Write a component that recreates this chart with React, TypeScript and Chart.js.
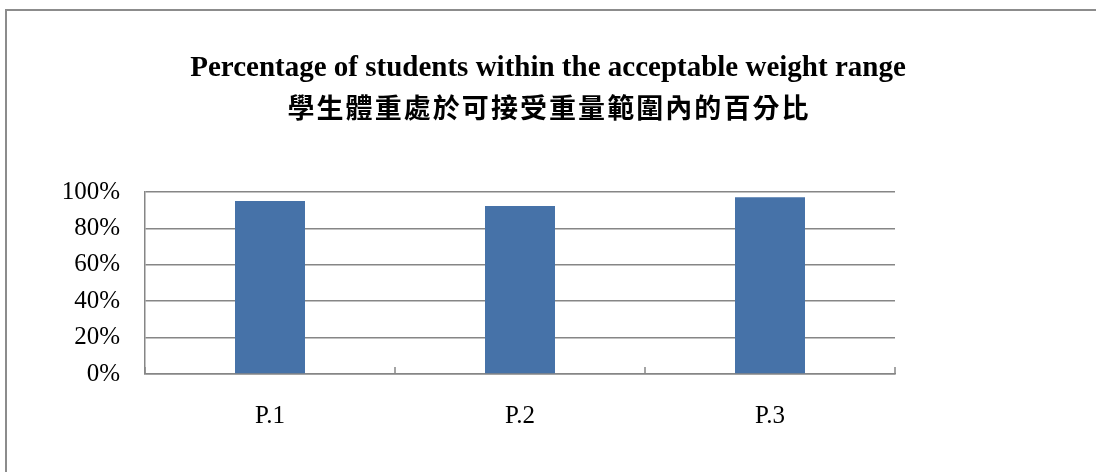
import React, { useEffect, useRef } from "react";
import { Chart, registerables } from "chart.js";

Chart.register(...registerables);

const categories: string[] = ["P.1", "P.2", "P.3"];
const percentWithinRange: number[] = [0.951, 0.923, 0.971];
const titleEnglish = "Percentage of students within the acceptable weight range";
const titleChinese = "學生體重處於可接受重量範圍內的百分比";

const GRID = "#868686";

const titlePlugin = {
  id: "twoLineTitle",
  afterDraw(chart: any) {
    const ctx = chart.ctx as CanvasRenderingContext2D;
    const cx = chart.width / 2;
    ctx.save();
    ctx.fillStyle = "#000";
    ctx.textAlign = "center";
    ctx.textBaseline = "alphabetic";
    ctx.font = 'bold 29px "Liberation Serif", "Times New Roman", serif';
    ctx.fillText(titleEnglish, cx, 76);
    // Chinese line: spread to the reference's span
    ctx.font = 'bold 27px "Noto Sans CJK TC", "Noto Sans CJK SC", sans-serif';
    (ctx as any).letterSpacing = "0px";
    const chars = Array.from(titleChinese);
    const target = 521;
    const w0 = ctx.measureText(titleChinese).width;
    const sp = Math.max(0, (target - w0) / (chars.length - 1));
    ctx.textAlign = "left";
    ctx.textBaseline = "middle";
    let x = cx - target / 2;
    for (const ch of chars) {
      ctx.fillText(ch, x, 108);
      x += ctx.measureText(ch).width + sp;
    }
    ctx.restore();
  },
};

const xTickPlugin = {
  id: "upTicks",
  afterDatasetsDraw(chart: any) {
    const ctx = chart.ctx as CanvasRenderingContext2D;
    const xs = chart.scales.x;
    const bottom = chart.chartArea.bottom;
    ctx.save();
    ctx.strokeStyle = GRID;
    ctx.lineWidth = 1.5;
    for (let i = 0; i <= categories.length; i++) {
      const px = Math.round(xs.getPixelForValue(i - 0.5));
      ctx.beginPath();
      ctx.moveTo(px, bottom);
      ctx.lineTo(px, bottom - 7);
      ctx.stroke();
    }
    ctx.restore();
  },
};

export default function App() {
  const ref = useRef<HTMLCanvasElement | null>(null);

  useEffect(() => {
    if (!ref.current) return;
    const chart = new Chart(ref.current, {
      type: "bar",
      data: {
        labels: categories,
        datasets: [
          {
            data: percentWithinRange,
            backgroundColor: "#4672a8",
            borderWidth: 0,
            categoryPercentage: 1,
            barPercentage: 0.28,
          },
        ],
      },
      options: {
        responsive: false,
        animation: false,
        layout: { padding: { top: 192, right: 201, bottom: 0, left: 0 } },
        plugins: {
          legend: { display: false },
          tooltip: { enabled: false },
          title: { display: false },
        },
        scales: {
          x: {
            offset: true,
            grid: { display: false, drawTicks: false },
            border: { display: true, color: GRID, width: 1.5 },
            ticks: {
              color: "#000",
              padding: 27,
              font: { family: '"Liberation Serif", "Times New Roman", serif', size: 25 },
            },
            afterFit: (s: any) => {
              s.height = 98;
            },
          },
          y: {
            min: 0,
            max: 1,
            grid: { color: GRID, lineWidth: 1.5, drawTicks: false },
            border: { display: true, color: GRID, width: 1.5 },
            ticks: {
              stepSize: 0.2,
              color: "#000",
              padding: 25,
              font: { family: '"Liberation Serif", "Times New Roman", serif', size: 25 },
              callback: (v: any) => Math.round(Number(v) * 100) + "%",
            },
            afterFit: (s: any) => {
              s.width = 145;
            },
          },
        },
      },
      plugins: [titlePlugin, xTickPlugin],
    });
    return () => chart.destroy();
  }, []);

  return (
    <div style={{ position: "fixed", left: 0, top: 0, width: 1096, height: 472, background: "#fff", overflow: "hidden" }}>
      <div
        style={{
          position: "absolute",
          left: 5,
          top: 9,
          width: 1200,
          height: 600,
          borderTop: "2px solid #8c8c8c",
          borderLeft: "2px solid #8c8c8c",
        }}
      />
      <canvas ref={ref} width={1096} height={472} style={{ position: "absolute", left: 0, top: 0, width: 1096, height: 472 }} />
    </div>
  );
}
